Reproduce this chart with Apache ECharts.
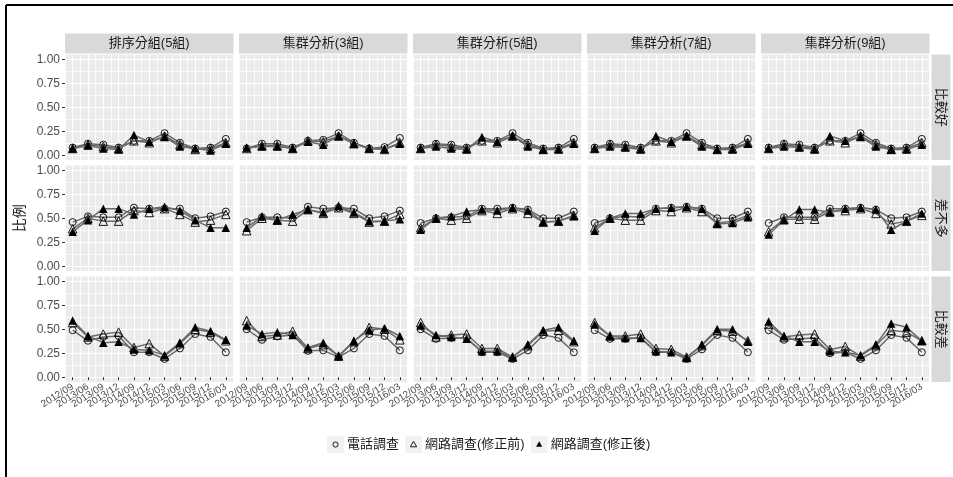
<!DOCTYPE html>
<html>
<head>
<meta charset="utf-8">
<script src="https://cdn.jsdelivr.net/npm/echarts@6/dist/echarts.min.js"></script>
<style>
html,body{margin:0;padding:0;background:#fff;}
#chart{width:953px;height:477px;}
</style>
</head>
<body>
<div id="chart"></div>
<script>
// Survey periods (x categories)
const periods = ['2012/09','2013/06','2013/09','2013/12','2014/09','2014/12','2015/03','2015/06','2015/09','2015/12','2016/03'];
// Facet columns: grouping method
const methods = ['排序分組(5組)','集群分析(3組)','集群分析(5組)','集群分析(7組)','集群分析(9組)'];
// Facet rows: rating
const ratings = ['比較好','差不多','比較差'];
// Series
const seriesNames = ['電話調查','網路調查(修正前)','網路調查(修正後)'];

// 比較好 — one row per grouping method
const phoneGood = [
  [0.08,0.12,0.11,0.08,0.15,0.15,0.23,0.13,0.07,0.08,0.17],
  [0.07,0.12,0.12,0.08,0.15,0.16,0.23,0.13,0.07,0.085,0.18],
  [0.08,0.12,0.11,0.08,0.15,0.15,0.23,0.13,0.07,0.08,0.17],
  [0.08,0.12,0.11,0.08,0.15,0.15,0.23,0.13,0.07,0.08,0.17],
  [0.08,0.12,0.11,0.08,0.15,0.15,0.23,0.13,0.07,0.08,0.17]
];
const webRawGood = [
  [0.07,0.11,0.09,0.07,0.15,0.13,0.20,0.11,0.06,0.07,0.13],
  [0.07,0.10,0.10,0.07,0.15,0.14,0.20,0.12,0.07,0.06,0.13],
  [0.07,0.11,0.09,0.07,0.15,0.13,0.20,0.11,0.06,0.07,0.13],
  [0.07,0.11,0.09,0.07,0.15,0.13,0.20,0.11,0.06,0.07,0.13],
  [0.07,0.11,0.09,0.07,0.15,0.13,0.20,0.11,0.06,0.07,0.13]
];
const webAdjGood = [
  [0.07,0.10,0.07,0.06,0.21,0.14,0.19,0.09,0.07,0.05,0.12],
  [0.08,0.09,0.09,0.07,0.14,0.11,0.20,0.12,0.07,0.065,0.12],
  [0.07,0.09,0.07,0.06,0.19,0.14,0.20,0.09,0.06,0.06,0.12],
  [0.07,0.09,0.08,0.06,0.20,0.14,0.20,0.09,0.06,0.06,0.12],
  [0.07,0.09,0.08,0.06,0.20,0.15,0.19,0.09,0.06,0.06,0.11]
];

// 差不多
const phoneSame = [
  [0.46,0.52,0.51,0.51,0.61,0.60,0.60,0.60,0.50,0.52,0.57],
  [0.46,0.51,0.51,0.50,0.62,0.60,0.61,0.60,0.50,0.52,0.58],
  [0.45,0.50,0.51,0.52,0.60,0.60,0.61,0.59,0.50,0.50,0.57],
  [0.45,0.50,0.52,0.51,0.60,0.61,0.62,0.60,0.50,0.50,0.57],
  [0.45,0.51,0.51,0.51,0.60,0.60,0.61,0.59,0.50,0.51,0.57]
];
const webRawSame = [
  [0.39,0.50,0.47,0.47,0.58,0.56,0.60,0.54,0.46,0.48,0.54],
  [0.37,0.50,0.48,0.47,0.59,0.55,0.61,0.55,0.46,0.47,0.54],
  [0.40,0.50,0.48,0.50,0.58,0.55,0.60,0.55,0.46,0.47,0.53],
  [0.40,0.50,0.48,0.48,0.58,0.57,0.61,0.57,0.45,0.47,0.53],
  [0.36,0.49,0.49,0.49,0.57,0.58,0.60,0.55,0.44,0.47,0.53]
];
const webAdjSame = [
  [0.36,0.48,0.60,0.60,0.54,0.60,0.62,0.58,0.48,0.40,0.40],
  [0.40,0.52,0.48,0.54,0.59,0.56,0.63,0.56,0.47,0.47,0.49],
  [0.38,0.50,0.52,0.57,0.59,0.58,0.61,0.58,0.46,0.47,0.52],
  [0.37,0.50,0.55,0.55,0.60,0.61,0.62,0.60,0.44,0.45,0.51],
  [0.33,0.48,0.59,0.59,0.56,0.60,0.61,0.59,0.38,0.47,0.55]
];

// 比較差
const phoneWorse = [
  [0.49,0.38,0.42,0.43,0.26,0.26,0.19,0.30,0.45,0.42,0.26],
  [0.50,0.39,0.425,0.44,0.275,0.28,0.21,0.30,0.45,0.43,0.28],
  [0.50,0.40,0.41,0.41,0.26,0.26,0.19,0.28,0.44,0.41,0.26],
  [0.49,0.40,0.40,0.41,0.26,0.26,0.19,0.29,0.44,0.41,0.26],
  [0.49,0.39,0.40,0.41,0.25,0.26,0.19,0.28,0.44,0.41,0.26]
];
const webRawWorse = [
  [0.57,0.42,0.45,0.47,0.31,0.35,0.22,0.35,0.50,0.47,0.38],
  [0.59,0.425,0.44,0.48,0.30,0.34,0.22,0.37,0.52,0.50,0.39],
  [0.57,0.42,0.44,0.45,0.30,0.30,0.21,0.33,0.48,0.49,0.37],
  [0.57,0.43,0.43,0.45,0.30,0.29,0.21,0.33,0.49,0.48,0.38],
  [0.55,0.42,0.44,0.45,0.29,0.32,0.22,0.33,0.49,0.47,0.38]
];
const webAdjWorse = [
  [0.59,0.43,0.36,0.37,0.29,0.28,0.23,0.36,0.52,0.48,0.39],
  [0.54,0.45,0.47,0.44,0.31,0.36,0.22,0.38,0.49,0.51,0.43],
  [0.54,0.44,0.42,0.40,0.27,0.27,0.21,0.34,0.49,0.52,0.38],
  [0.55,0.43,0.41,0.41,0.27,0.26,0.20,0.34,0.50,0.50,0.37],
  [0.58,0.43,0.37,0.37,0.27,0.26,0.23,0.34,0.56,0.52,0.38]
];

const valuesByRating = [
  [phoneGood, webRawGood, webAdjGood],
  [phoneSame, webRawSame, webAdjSame],
  [phoneWorse, webRawWorse, webAdjWorse]
];

// ---- layout (ggplot-like facet grid) ----
const FONT = '"Liberation Sans", "Noto Sans CJK TC", sans-serif';
const panelLeft = 65, panelW = 168.5, colPitch = 174;
const panelTop = 54.5, panelH = 105.5, rowPitch = 111;
const stripH = 20;
const rightStripX = panelLeft + 4 * colPitch + panelW + 2;
const rightStripW = 19;

// decorative y scale: every 0.025 from -0.05 to 1.05 (ggplot 5% expansion)
const yGridCats = [];
for (let i = 0; i <= 44; i++) yGridCats.push((Math.round((-0.05 + i * 0.025) * 1000) / 1000).toFixed(3));
const isEighth = (i) => i >= 2 && i <= 42 && (i - 2) % 5 === 0;
const isQuarter = (i) => i >= 2 && i <= 42 && (i - 2) % 10 === 0;

const symbolStyles = [
  { symbol: 'circle', symbolSize: 7, itemStyle: { color: 'rgba(0,0,0,0)', borderColor: '#000', borderWidth: 0.9 } },
  { symbol: 'triangle', symbolSize: 8.5, itemStyle: { color: 'rgba(0,0,0,0)', borderColor: '#000', borderWidth: 0.9 } },
  { symbol: 'triangle', symbolSize: 8.5, itemStyle: { color: '#000', borderColor: '#000', borderWidth: 0 } }
];

const grid = [], xAxis = [], yAxis = [], series = [], graphic = [];

for (let r = 0; r < 3; r++) {
  for (let c = 0; c < 5; c++) {
    const k = r * 5 + c;
    const left = panelLeft + c * colPitch;
    const top = panelTop + r * rowPitch;
    grid.push({ left: left, top: top, width: panelW, height: panelH, show: true,
      backgroundColor: '#EBEBEB', borderWidth: 0, containLabel: false });
    const bottomRow = r === 2, firstCol = c === 0;
    // category axis carrying the data, labels and ticks
    xAxis.push({ type: 'category', gridIndex: k, position: 'bottom', data: periods, boundaryGap: true,
      axisLine: { show: false },
      axisTick: { show: bottomRow, alignWithLabel: true, length: 3, lineStyle: { color: '#333333', width: 1 } },
      axisLabel: { show: bottomRow, rotate: 32, fontSize: 10, color: '#4D4D4D', fontFamily: FONT, margin: 4, interval: 0 },
      splitLine: { show: false }, z: 3 });
    // value axis for major/minor vertical grid lines
    xAxis.push({ type: 'value', gridIndex: k, position: 'bottom', min: 0.5, max: 11.5, interval: 0.5,
      axisLine: { show: false }, axisTick: { show: false }, axisLabel: { show: false },
      splitLine: { show: true, lineStyle: { color: ['rgba(255,255,255,0.75)', '#FFFFFF'], width: 1 } } });
    // value axis carrying the data
    yAxis.push({ type: 'value', gridIndex: k, position: 'left', min: -0.05, max: 1.05,
      axisLine: { show: false }, axisTick: { show: false }, axisLabel: { show: false }, splitLine: { show: false } });
    // decorative axis for horizontal grid lines, ticks and labels
    yAxis.push({ type: 'category', gridIndex: k, position: 'left', data: yGridCats, boundaryGap: false,
      axisLine: { show: false },
      axisTick: { show: firstCol, length: 3, interval: (i) => isQuarter(i), lineStyle: { color: '#333333', width: 1 } },
      axisLabel: { show: firstCol, interval: (i) => isQuarter(i), fontSize: 12, color: '#4D4D4D', fontFamily: FONT, margin: 5,
        formatter: (v) => Number(v).toFixed(2) },
      splitLine: { show: true, interval: (i) => isEighth(i), lineStyle: { color: ['#FFFFFF', 'rgba(255,255,255,0.75)'], width: 1 } } });

    for (let s = 0; s < 3; s++) {
      series.push(Object.assign({
        type: 'line', name: seriesNames[s], xAxisIndex: 2 * k, yAxisIndex: 2 * k,
        data: valuesByRating[r][s][c],
        lineStyle: { color: '#6A6A6A', width: 1.5 },
        emphasis: { disabled: true }, animation: false, z: 3 + s
      }, symbolStyles[s]));
    }

    // top strip
    if (r === 0) {
      graphic.push({ type: 'rect', shape: { x: left, y: panelTop - stripH - 1, width: panelW, height: stripH },
        style: { fill: '#D9D9D9' }, silent: true });
      graphic.push({ type: 'text', x: left + panelW / 2, y: panelTop - stripH / 2 - 1,
        style: { text: methods[c], fill: '#1A1A1A', font: '13px ' + FONT, textAlign: 'center', textVerticalAlign: 'middle' }, silent: true });
    }
  }
  // right strip
  const top = panelTop + r * rowPitch;
  graphic.push({ type: 'rect', shape: { x: rightStripX, y: top, width: rightStripW, height: panelH },
    style: { fill: '#D9D9D9' }, silent: true });
  graphic.push({ type: 'text', x: rightStripX + rightStripW / 2, y: top + panelH / 2, rotation: -Math.PI / 2,
    style: { text: ratings[r], fill: '#1A1A1A', font: '13px ' + FONT, textAlign: 'center', textVerticalAlign: 'middle' }, silent: true });
}

// y title
graphic.push({ type: 'text', x: 20, y: panelTop + (2 * rowPitch + panelH) / 2, rotation: Math.PI / 2,
  style: { text: '比例', fill: '#1A1A1A', font: '14px ' + FONT, textAlign: 'center', textVerticalAlign: 'middle' }, silent: true });
// outer frame (top and left edges)
graphic.push({ type: 'line', shape: { x1: 6, y1: 5, x2: 953, y2: 5 }, style: { stroke: '#000', lineWidth: 2 }, silent: true });
graphic.push({ type: 'line', shape: { x1: 6, y1: 5, x2: 6, y2: 477 }, style: { stroke: '#000', lineWidth: 2 }, silent: true });

// legend keys: grey square with the series symbol
const keySvg = (inner) => 'image://data:image/svg+xml;charset=utf-8,' + encodeURIComponent(
  "<svg xmlns='http://www.w3.org/2000/svg' width='17' height='17'><rect width='17' height='17' fill='#F2F2F2'/>" + inner + "</svg>");
const legendIcons = [
  keySvg("<circle cx='8.5' cy='8.5' r='2.6' fill='none' stroke='#000' stroke-width='0.9'/>"),
  keySvg("<path d='M8.5 5.2 L11.6 10.8 L5.4 10.8 Z' fill='none' stroke='#000' stroke-width='0.9'/>"),
  keySvg("<path d='M8.5 5.2 L11.6 10.8 L5.4 10.8 Z' fill='#000'/>")
];

const option = {
  backgroundColor: '#FFFFFF',
  animation: false,
  grid, xAxis, yAxis, series, graphic,
  legend: {
    top: 431, left: 322, orient: 'horizontal',
    itemWidth: 17, itemHeight: 17, itemGap: 6,
    textStyle: { fontSize: 13, color: '#1A1A1A', fontFamily: FONT, padding: [0, 0, 0, -2] },
    data: seriesNames.map((n, i) => ({ name: n, icon: legendIcons[i] })),
    selectedMode: false
  }
};

const chart = echarts.init(document.getElementById('chart'), null, { renderer: 'canvas' });
chart.setOption(option);
</script>
</body>
</html>
